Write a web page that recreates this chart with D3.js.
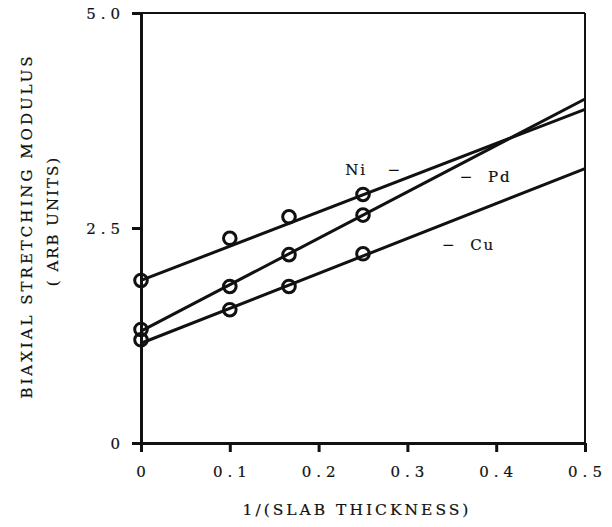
<!DOCTYPE html>
<html>
<head>
<meta charset="utf-8">
<script src="https://cdn.jsdelivr.net/npm/d3@7"></script>
<style>
  body { margin: 0; background: #fff; }
  text { font-family: "DejaVu Serif", "Liberation Serif", serif; fill: #111; stroke: #111; stroke-width: 0.2px; }
</style>
</head>
<body>
<script>
// measured points, x = 1/(slab thickness)
const xPoints = [0, 0.1, 1 / 6, 0.25];
const niValues = [1.89, 2.38, 2.63, 2.89];
const pdValues = [1.32, 1.82, 2.19, 2.65];
const cuValues = [1.20, 1.55, 1.82, 2.20];

// straight fit lines: value at x=0 and at x=0.5
const fitX = [0, 0.5];
const niFit = [1.89, 3.88];
const pdFit = [1.30, 4.00];
const cuFit = [1.16, 3.19];

const xTicks = [0, 0.1, 0.2, 0.3, 0.4, 0.5];
const yTicks = [0, 2.5, 5.0];

const series = [
  { name: 'Ni', values: niValues, fit: niFit, label: 'Ni   \u2212', lx: 0.23, ly: 3.18 },
  { name: 'Pd', values: pdValues, fit: pdFit, label: '\u2212  Pd', lx: 0.359, ly: 3.10 },
  { name: 'Cu', values: cuValues, fit: cuFit, label: '\u2212  Cu', lx: 0.339, ly: 2.31 },
];

const svgWidth = 612, svgHeight = 527;
const margin = { top: 13, right: 27, bottom: 84, left: 141 };
const width = svgWidth - margin.left - margin.right;
const height = svgHeight - margin.top - margin.bottom;

const svg = d3.select('body').append('svg')
  .attr('width', svgWidth)
  .attr('height', svgHeight);

const g = svg.append('g')
  .attr('transform', `translate(${margin.left}, ${margin.top})`);

const x = d3.scaleLinear().domain([0, 0.5]).range([0, width]);
const y = d3.scaleLinear().domain([0, 5]).range([height, 0]);

// frame: top and right are thinner
g.append('line')
  .attr('x1', 0).attr('x2', width).attr('y1', 0).attr('y2', 0)
  .attr('stroke', '#111').attr('stroke-width', 2.2);
g.append('line')
  .attr('x1', width).attr('x2', width).attr('y1', 0).attr('y2', height)
  .attr('stroke', '#111').attr('stroke-width', 2);

const fmt = d => d === 0 ? '0' : d3.format('.1f')(d);

const xAxis = g.append('g')
  .attr('transform', `translate(0, ${height})`)
  .call(d3.axisBottom(x).tickValues(xTicks).tickFormat(fmt).tickSize(9).tickSizeOuter(0).tickPadding(14));
const yAxis = g.append('g')
  .call(d3.axisLeft(y).tickValues(yTicks).tickFormat(fmt).tickSize(9).tickSizeOuter(0).tickPadding(14));

[xAxis, yAxis].forEach(a => {
  a.select('.domain').attr('stroke', '#111').attr('stroke-width', 3);
  a.selectAll('.tick line').attr('stroke', '#111').attr('stroke-width', 3);
  a.selectAll('.tick text')
    .attr('fill', '#111')
    .attr('stroke', '#111')
    .attr('stroke-width', 0.2)
    .style('font-family', '"DejaVu Serif", serif')
    .style('font-size', '15px')
    .style('letter-spacing', '5px');
});
yAxis.selectAll('.tick text').attr('dy', '0.35em').attr('x', -16);
xAxis.selectAll('.tick text').attr('dx', '2px');

// fit lines
const line = d3.line()
  .x((d, i) => x(fitX[i]))
  .y(d => y(d));

series.forEach(s => {
  g.append('path')
    .datum(s.fit)
    .attr('fill', 'none')
    .attr('stroke', '#111')
    .attr('stroke-width', 3)
    .attr('d', line);

  g.selectAll(null)
    .data(s.values)
    .enter()
    .append('circle')
    .attr('cx', (d, i) => x(xPoints[i]))
    .attr('cy', d => y(d))
    .attr('r', 6.3)
    .attr('fill', 'none')
    .attr('stroke', '#111')
    .attr('stroke-width', 3);

  g.append('text')
    .attr('x', x(s.lx))
    .attr('y', y(s.ly))
    .attr('dy', '0.35em')
    .style('font-size', '15px')
    .style('letter-spacing', '2px')
    .style('white-space', 'pre')
    .text(s.label);
});

// axis titles
svg.append('text')
  .attr('x', 357)
  .attr('y', 515)
  .attr('text-anchor', 'middle')
  .style('font-size', '15.5px')
  .style('letter-spacing', '3px')
  .text('1/(SLAB THICKNESS)');

svg.append('text')
  .attr('transform', 'translate(27, 226) rotate(-90)')
  .attr('text-anchor', 'middle')
  .attr('dy', '0.35em')
  .style('font-size', '15px')
  .style('letter-spacing', '3px')
  .text('BIAXIAL STRETCHING MODULUS');

svg.append('text')
  .attr('transform', 'translate(53, 221) rotate(-90)')
  .attr('text-anchor', 'middle')
  .attr('dy', '0.35em')
  .style('font-size', '15px')
  .style('letter-spacing', '2px')
  .style('white-space', 'pre')
  .text('( ARB UNITS)');
</script>
</body>
</html>
